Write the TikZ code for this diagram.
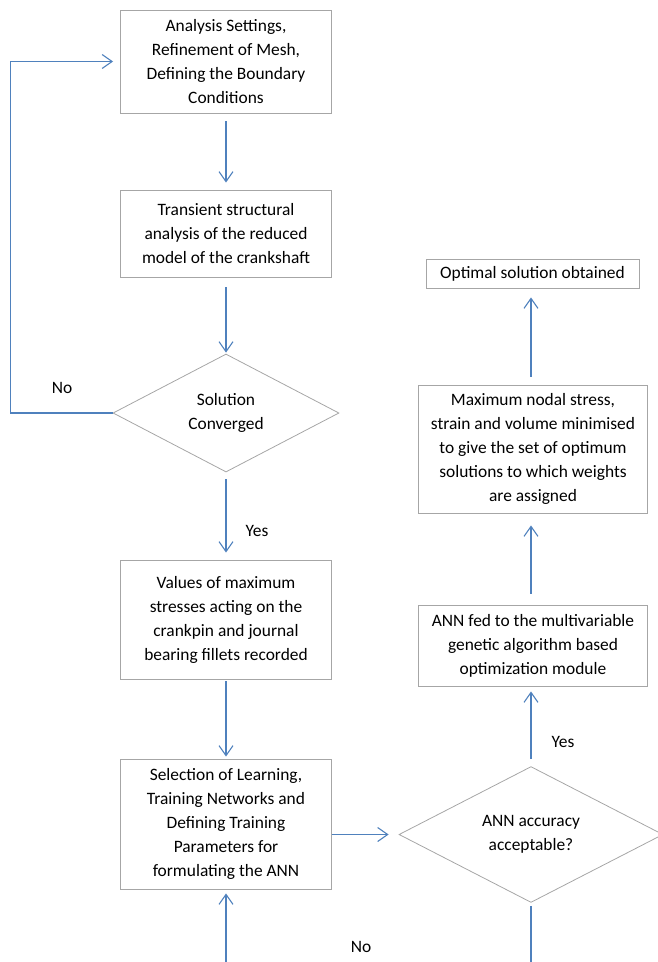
\documentclass[tikz,border=0pt]{standalone}
\usepackage{fontspec}
\setmainfont{Carlito}
\usetikzlibrary{shapes.geometric,arrows.meta}
\definecolor{boxgray}{HTML}{A6A6A6}
\definecolor{arrblue}{HTML}{4F81BD}
\tikzset{
  txt/.style={font=\fontsize{17.4}{24}\selectfont, text=black},
  procbox/.style={txt, draw=boxgray, line width=0.9pt, rectangle, align=center, inner sep=0pt},
  decide/.style={txt, draw=boxgray, line width=0.8pt, diamond, align=center, inner sep=0pt},
  flow/.style={draw=arrblue, line width=1.2pt, -{Straight Barb[length=10pt,width=14pt,line width=1.1pt]}},
  plainflow/.style={draw=arrblue, line width=1.2pt},
  lbl/.style={txt, inner sep=0pt}
}
\begin{document}
\begin{tikzpicture}[x=1pt,y=-1pt]
\useasboundingbox (0,0) rectangle (658,962);
% left column
\node[procbox, minimum width=211pt, minimum height=103pt] (b1) at (226,61.5)
  {Analysis Settings,\\Refinement of Mesh,\\Defining the Boundary\\Conditions};
\node[procbox, minimum width=211pt, minimum height=87pt] (b2) at (226,233.5)
  {Transient structural\\analysis of the reduced\\model of the crankshaft};
\node[decide, minimum width=226pt, minimum height=118pt] (d1) at (226,413)
  {Solution\\Converged};
\node[procbox, minimum width=211pt, minimum height=119pt] (b3) at (226,619.5)
  {Values of maximum\\stresses acting on the\\crankpin and journal\\bearing fillets recorded};
\node[procbox, minimum width=211pt, minimum height=130pt] (b4) at (226,824)
  {Selection of Learning,\\Training Networks and\\Defining Training\\Parameters for\\formulating the ANN};
% right column
\node[decide, minimum width=264pt, minimum height=111pt] (d2) at (531,834.5)
  {ANN accuracy\\acceptable?};
\node[procbox, minimum width=229pt, minimum height=81pt] (b5) at (533,645.5)
  {ANN fed to the multivariable\\genetic algorithm based\\optimization module};
\node[procbox, minimum width=229pt, minimum height=128pt] (b6) at (533,449)
  {Maximum nodal stress,\\strain and volume minimised\\to give the set of optimum\\solutions to which weights\\are assigned};
\node[procbox, minimum width=213pt, minimum height=29pt] (b7) at (532.5,273.5)
  {Optimal solution obtained};
% connectors
\draw[flow, shorten <=8pt, shorten >=7pt] (b1.south) -- (b2.north);
\draw[flow, shorten <=10pt, shorten >=1pt] (b2.south) -- (d1.north);
\draw[flow, shorten <=7pt, shorten >=7pt] (d1.south) -- (b3.north);
\draw[flow, shorten <=2pt, shorten >=2pt] (b3.south) -- (b4.north);
\draw[flow, shorten >=7pt] (d1.west) -- ++(-102,0) |- (b1.west);
\coordinate (lb) at (226,962);
\draw[flow, shorten >=4pt] (lb) -- (b4.south);
\draw[flow, shorten >=10pt] (b4.east |- d2.west) -- (d2.west);
\draw[flow, shorten <=7pt, shorten >=5pt] (d2.north) -- (d2.north |- b5.south);
\draw[flow, shorten <=11pt, shorten >=12pt] (b5.north -| d2.north) -- (b6.south -| d2.north);
\draw[flow, shorten <=8pt, shorten >=9pt] (b6.north -| d2.north) -- (b7.south -| d2.north);
\coordinate (rb) at (531,962);
\draw[plainflow, shorten <=3pt] (d2.south) -- (rb);
% labels
\node[lbl] (lno1) at (62,388) {No};
\node[lbl] (lyes1) at (257,531) {Yes};
\node[lbl] (lyes2) at (563,742) {Yes};
\node[lbl] (lno2) at (361,947) {No};
\end{tikzpicture}
\end{document}
